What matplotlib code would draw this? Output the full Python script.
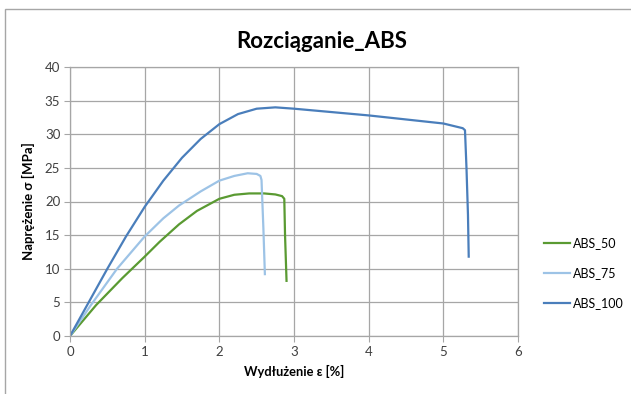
import matplotlib
matplotlib.use("Agg")
import matplotlib.pyplot as plt
from matplotlib.patches import Rectangle

plt.rcParams['font.family'] = ['Lato', 'DejaVu Sans']

# odczyty z próby rozciągania: wydłużenie [%], naprężenie [MPa]
eps_50 = [0, 0.35, 0.7, 1.0, 1.2, 1.46, 1.7, 2.0, 2.2, 2.4, 2.6, 2.75, 2.84, 2.87, 2.88, 2.9]
sig_50 = [0, 4.6, 8.6, 11.8, 14.0, 16.6, 18.6, 20.4, 21.0, 21.2, 21.2, 21.05, 20.8, 20.4, 15.0, 8.2]

eps_75 = [0, 0.28, 0.63, 1.0, 1.25, 1.46, 1.75, 2.0, 2.2, 2.38, 2.5, 2.55, 2.565, 2.59, 2.61]
sig_75 = [0, 4.6, 10.0, 14.8, 17.5, 19.4, 21.5, 23.1, 23.8, 24.2, 24.1, 23.8, 23.2, 16.0, 9.2]

eps_100 = [0, 0.25, 0.5, 0.75, 1.0, 1.25, 1.5, 1.75, 2.0, 2.25, 2.5, 2.75, 3.0,
           3.5, 4.0, 4.5, 5.0, 5.26, 5.29, 5.31, 5.33, 5.34]
sig_100 = [0, 5.0, 10.0, 14.8, 19.2, 23.1, 26.5, 29.3, 31.5, 33.0, 33.8, 34.0, 33.8,
           33.3, 32.8, 32.2, 31.6, 30.9, 30.6, 25.0, 18.0, 11.8]

labels = ["ABS_50", "ABS_75", "ABS_100"]
colors = ["#5a9a32", "#9dc3e6", "#4a7ebb"]

fig = plt.figure(figsize=(6.31, 3.94), dpi=100)
ax = fig.add_axes([70 / 631, 1 - 336 / 394, 448 / 631, 269 / 394])

# ramka wykresu
fig.patches.append(Rectangle((5 / 631, -0.2), 1.2, 1.2 - 9 / 394, transform=fig.transFigure,
                             fill=False, edgecolor="#a6a6a6", linewidth=1.0))

for x, y, lab, c in zip([eps_50, eps_75, eps_100], [sig_50, sig_75, sig_100], labels, colors):
    ax.plot(x, y, color=c, linewidth=1.6, label=lab, solid_joinstyle="round")

ax.set_xlim(0, 6)
ax.set_ylim(0, 40)
ax.set_xticks(range(0, 7))
ax.set_yticks(range(0, 41, 5))
ax.grid(True, color="#a6a6a6", linewidth=0.9)
ax.set_axisbelow(True)
for s in ax.spines.values():
    s.set_color("#a6a6a6")
    s.set_linewidth(0.9)
ax.tick_params(direction="out", length=4, color="#a6a6a6", labelsize=9.5, labelcolor="#404040", pad=3)

# tytuł wyśrodkowany względem całego obszaru wykresu
fig.text(322 / 631, 1 - 42 / 394, "Rozciąganie_ABS", fontsize=16, fontweight="bold",
         ha="center", va="center")
ax.set_xlabel("Wydłużenie ε [%]", fontsize=9.3, fontweight="bold", labelpad=5)
ax.set_ylabel("Naprężenie σ [MPa]", fontsize=9.5, fontweight="bold", labelpad=7)

ax.legend(loc="center left", bbox_to_anchor=(544 / 631, 1 - 273 / 394), bbox_transform=fig.transFigure,
          frameon=False, fontsize=9, borderaxespad=0, borderpad=0,
          handlelength=2.1, handletextpad=0.2, labelspacing=1.45)

fig.savefig("out.png", dpi=100)
